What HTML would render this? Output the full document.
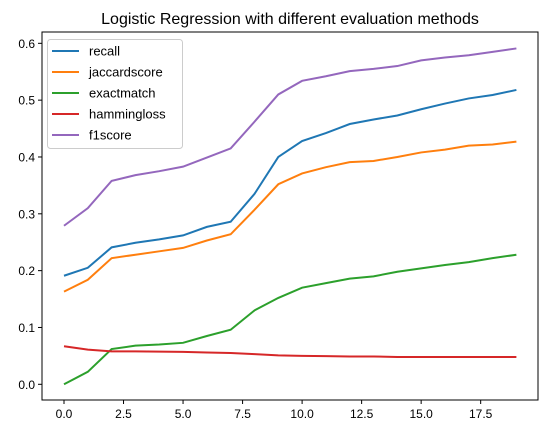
<!DOCTYPE html>
<html><head><meta charset="utf-8"><style>
body{margin:0;background:#fff}
svg{display:block;font-family:"Liberation Sans","DejaVu Sans",sans-serif}
</style></head><body>
<svg id="chart" width="547" height="435" xmlns="http://www.w3.org/2000/svg">
<text x="290" y="24" text-anchor="middle" font-size="16">Logistic Regression with different evaluation methods</text>
<g id="axes"></g>
<g id="lines"></g>
<rect x="42" y="32" width="496" height="368" fill="none" stroke="#000" stroke-width="1"/>
<g id="legend"></g>
</svg>
<script>
const xs=[0,1,2,3,4,5,6,7,8,9,10,11,12,13,14,15,16,17,18,19];
const recall=[0.191,0.205,0.241,0.249,0.255,0.262,0.277,0.286,0.335,0.400,0.428,0.442,0.458,0.466,0.473,0.484,0.494,0.503,0.509,0.518];
const jaccardscore=[0.163,0.184,0.222,0.228,0.234,0.240,0.253,0.264,0.307,0.352,0.371,0.382,0.391,0.393,0.400,0.408,0.413,0.420,0.422,0.427];
const exactmatch=[0,0.022,0.062,0.068,0.070,0.073,0.085,0.096,0.130,0.152,0.170,0.178,0.186,0.190,0.198,0.204,0.210,0.215,0.222,0.228];
const hammingloss=[0.067,0.061,0.058,0.058,0.0575,0.057,0.056,0.055,0.053,0.051,0.050,0.0495,0.049,0.049,0.048,0.048,0.048,0.048,0.048,0.048];
const f1score=[0.279,0.310,0.358,0.368,0.375,0.383,0.399,0.415,0.462,0.510,0.534,0.542,0.551,0.555,0.560,0.570,0.575,0.579,0.585,0.591];
const xTicks=[0,2.5,5,7.5,10,12.5,15,17.5];
const xTickLabels=["0.0","2.5","5.0","7.5","10.0","12.5","15.0","17.5"];
const yTicks=[0,0.1,0.2,0.3,0.4,0.5,0.6];
const yTickLabels=["0.0","0.1","0.2","0.3","0.4","0.5","0.6"];
const seriesNames=["recall","jaccardscore","exactmatch","hammingloss","f1score"];
const colors=["#1f77b4","#ff7f0e","#2ca02c","#d62728","#9467bd"];
const series=[recall,jaccardscore,exactmatch,hammingloss,f1score];
const X=v=>64+v*23.81;
const Y=v=>384.3-v*568.3;
const NS="http://www.w3.org/2000/svg";
const ax=document.getElementById('axes');
function mk(t,a,p){const e=document.createElementNS(NS,t);for(const k in a)e.setAttribute(k,a[k]);p.appendChild(e);return e;}
xTicks.forEach((t,i)=>{
 const g=mk('g',{},ax);
 
 
 mk('line',{x1:X(t),x2:X(t),y1:400,y2:404,stroke:'#000'},g);
 const tx=mk('text',{x:X(t),y:418,'text-anchor':'middle','font-size':'12'},g);tx.textContent=xTickLabels[i];
});
yTicks.forEach((t,i)=>{
 const g=mk('g',{},ax);
 
 
 mk('line',{x1:38,x2:42,y1:Y(t),y2:Y(t),stroke:'#000'},g);
 const tx=mk('text',{x:35,y:Y(t)+4.5,'text-anchor':'end','font-size':'12'},g);tx.textContent=yTickLabels[i];
});
const ln=document.getElementById('lines');
series.forEach((s,i)=>{
 const p=mk('polyline',{points:s.map((v,j)=>X(xs[j])+','+Y(v)).join(' '),fill:'none',stroke:colors[i],'stroke-width':'2'},ln);
 
 
});
const lg=document.getElementById('legend');
const box=mk('rect',{x:47.5,y:39.5,width:135,height:109,rx:3,fill:'#fff','fill-opacity':'0.8',stroke:'#ccc'},lg);


seriesNames.forEach((n,i)=>{
 const g=mk('g',{},lg);
 
 
 const y=51+i*21;
 mk('line',{x1:52,x2:79,y1:y,y2:y,stroke:colors[i],'stroke-width':'2'},g);
 const t=mk('text',{x:89,y:y+4.5,'font-size':'13'},g);t.textContent=n;
});
</script>
</body></html>
